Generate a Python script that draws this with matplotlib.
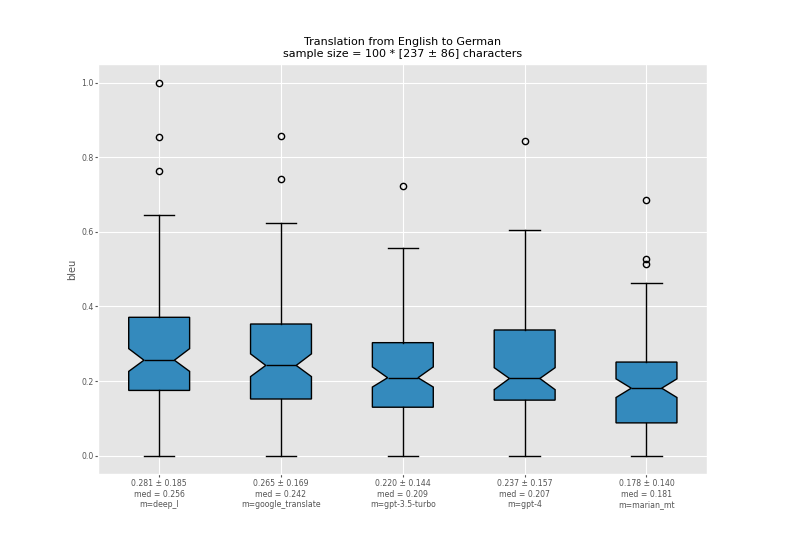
import matplotlib
matplotlib.use("Agg")
import matplotlib.pyplot as plt

# values (bleu scores)
models = ["deep_l", "google_translate", "gpt-3.5-turbo", "gpt-4", "marian_mt"]
means = [0.281, 0.265, 0.220, 0.237, 0.178]
stds = [0.185, 0.169, 0.144, 0.157, 0.140]
medians = [0.256, 0.242, 0.209, 0.207, 0.181]
q1s = [0.175, 0.152, 0.130, 0.149, 0.088]
q3s = [0.371, 0.353, 0.303, 0.337, 0.251]
whis_lo = [0.0, 0.0, 0.0, 0.0, 0.0]
whis_hi = [0.645, 0.623, 0.556, 0.605, 0.464]
notch_lo = [0.226, 0.212, 0.184, 0.177, 0.156]
notch_hi = [0.287, 0.273, 0.238, 0.236, 0.206]
fliers = [
    [1.0, 0.855, 0.763],
    [0.856, 0.742],
    [0.722],
    [0.843],
    [0.685, 0.528, 0.513],
]

plt.style.use("ggplot")

stats = []
for i, m in enumerate(models):
    stats.append({
        "label": "%.3f \u00b1 %.3f\nmed = %.3f\nm=%s" % (means[i], stds[i], medians[i], m),
        "med": medians[i],
        "q1": q1s[i],
        "q3": q3s[i],
        "whislo": whis_lo[i],
        "whishi": whis_hi[i],
        "cilo": notch_lo[i],
        "cihi": notch_hi[i],
        "fliers": fliers[i],
        "mean": means[i],
    })

fig, ax = plt.subplots(figsize=(7.86, 5.33), dpi=100)
ax.bxp(stats, shownotches=True, patch_artist=True,
       boxprops=dict(facecolor="#348ABD", edgecolor="black", linewidth=1.0),
       medianprops=dict(color="black", linewidth=1.0),
       whiskerprops=dict(color="black", linewidth=1.0),
       capprops=dict(color="black", linewidth=1.0),
       flierprops=dict(marker="o", markerfacecolor="none", markeredgecolor="black",
                       markersize=4.5, markeredgewidth=1.0))

ax.set_title("Translation from English to German\nsample size = 100 * [237 \u00b1 86] characters",
             fontsize=8, color="black", pad=5)
ax.set_ylabel("bleu", fontsize=7, color="#555555", labelpad=3)
ax.tick_params(axis="both", labelsize=5.6, length=2, pad=1.5)

fig.savefig("out.png", dpi=100)
